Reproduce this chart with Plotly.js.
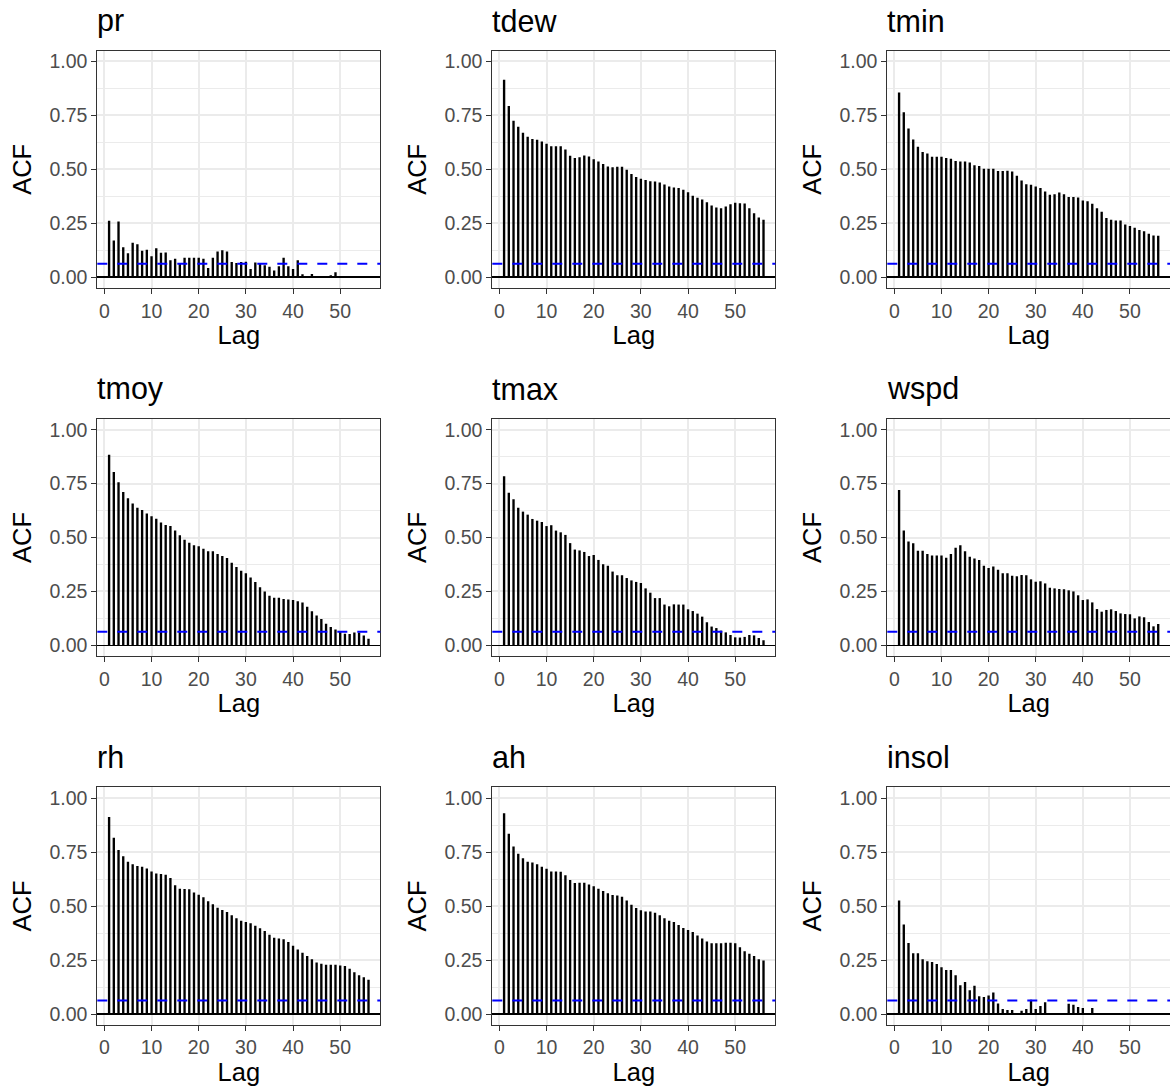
<!DOCTYPE html>
<html>
<head>
<meta charset="utf-8">
<script src="https://cdn.plot.ly/plotly-3.0.1.min.js"></script>
<style>
html,body{margin:0;padding:0;background:#ffffff;}
#chart{width:1170px;height:1091px;}
</style>
</head>
<body>
<div id="chart"></div>
<script>
// ---------- data ----------
const lags = [1,2,3,4,5,6,7,8,9,10,11,12,13,14,15,16,17,18,19,20,21,22,23,24,25,26,27,28,29,30,31,32,33,34,35,36,37,38,39,40,41,42,43,44,45,46,47,48,49,50,51,52,53,54,55,56];

const panelNames = ['pr','tdew','tmin','tmoy','tmax','wspd','rh','ah','insol'];

const acf_pr = [0.262,0.170,0.258,0.139,0.111,0.160,0.153,0.123,0.128,0.097,
  0.134,0.114,0.115,0.079,0.086,0.065,0.091,0.091,0.091,0.091,
  0.086,0.043,0.091,0.120,0.125,0.120,0.071,0.066,0.071,0.072,
  0.039,0.068,0.066,0.056,0.049,0.031,0.051,0.091,0.051,0.039,
  0.079,0.014,null,0.015,null,null,null,0.009,0.023,null,
  null,null,null,null,null,null];

const acf_tdew = [0.915,0.793,0.725,0.697,0.669,0.651,0.640,0.637,0.629,0.618,
  0.607,0.607,0.607,0.592,0.563,0.552,0.556,0.564,0.559,0.547,
  0.536,0.525,0.513,0.510,0.512,0.512,0.498,0.478,0.464,0.456,
  0.450,0.445,0.444,0.439,0.430,0.420,0.416,0.413,0.405,0.394,
  0.377,0.368,0.360,0.348,0.332,0.323,0.320,0.328,0.338,0.345,
  0.343,0.342,0.320,0.297,0.277,0.267];

const acf_tmin = [0.855,0.764,0.689,0.638,0.604,0.580,0.573,0.558,0.558,0.558,
  0.552,0.549,0.539,0.536,0.536,0.532,0.519,0.515,0.502,0.502,
  0.502,0.492,0.492,0.493,0.490,0.470,0.448,0.431,0.428,0.420,
  0.413,0.397,0.382,0.385,0.393,0.385,0.372,0.372,0.369,0.355,
  0.352,0.340,0.320,0.303,0.275,0.267,0.263,0.263,0.244,0.238,
  0.229,0.219,0.213,0.202,0.193,0.192];

const acf_tmoy = [0.884,0.804,0.756,0.711,0.682,0.658,0.638,0.628,0.611,0.598,
  0.587,0.569,0.558,0.553,0.532,0.510,0.490,0.476,0.464,0.459,
  0.448,0.436,0.436,0.423,0.414,0.405,0.383,0.363,0.346,0.334,
  0.315,0.294,0.269,0.249,0.230,0.221,0.221,0.215,0.212,0.210,
  0.204,0.199,0.179,0.158,0.138,0.122,0.100,0.085,0.073,0.065,
  0.054,0.053,0.060,0.059,0.045,0.031];

const acf_tmax = [0.784,0.708,0.677,0.638,0.620,0.606,0.586,0.578,0.572,0.553,
  0.557,0.532,0.524,0.512,0.474,0.444,0.440,0.433,0.414,0.419,
  0.396,0.376,0.369,0.342,0.325,0.325,0.312,0.301,0.294,0.289,
  0.264,0.244,0.219,0.219,0.189,0.181,0.190,0.189,0.189,0.167,
  0.159,0.147,0.133,0.107,0.087,0.080,0.068,0.060,0.048,0.037,
  0.036,0.039,0.048,0.046,0.034,0.023];

const acf_wspd = [0.720,0.533,0.482,0.473,0.439,0.439,0.423,0.417,0.417,0.416,
  0.406,0.423,0.453,0.464,0.436,0.411,0.403,0.396,0.369,0.359,
  0.366,0.351,0.334,0.334,0.323,0.320,0.326,0.325,0.306,0.295,
  0.297,0.287,0.267,0.264,0.261,0.260,0.255,0.250,0.232,0.210,
  0.213,0.199,0.168,0.156,0.164,0.167,0.159,0.148,0.145,0.144,
  0.125,0.134,0.130,0.108,0.088,0.099];

const acf_rh = [0.912,0.816,0.759,0.730,0.705,0.693,0.685,0.682,0.674,0.660,
  0.650,0.648,0.645,0.630,0.596,0.580,0.579,0.577,0.563,0.552,
  0.540,0.522,0.508,0.492,0.481,0.472,0.457,0.443,0.432,0.426,
  0.420,0.409,0.397,0.384,0.367,0.353,0.349,0.346,0.333,0.316,
  0.299,0.284,0.269,0.253,0.239,0.233,0.228,0.228,0.228,0.225,
  0.222,0.210,0.193,0.179,0.170,0.159];

const acf_ah = [0.929,0.835,0.775,0.742,0.721,0.705,0.701,0.693,0.682,0.673,
  0.660,0.660,0.659,0.642,0.620,0.606,0.608,0.608,0.600,0.591,
  0.580,0.569,0.559,0.551,0.549,0.543,0.526,0.506,0.491,0.480,
  0.475,0.474,0.469,0.457,0.443,0.432,0.426,0.412,0.398,0.389,
  0.380,0.364,0.350,0.336,0.327,0.327,0.327,0.330,0.330,0.327,
  0.309,0.290,0.279,0.269,0.253,0.248];

const acf_insol = [0.526,0.414,0.329,0.281,0.281,0.253,0.244,0.241,0.231,0.216,
  0.204,0.204,0.179,0.133,0.148,0.110,0.131,0.082,0.079,0.086,
  0.100,0.049,0.023,0.019,0.019,null,0.015,0.023,0.066,0.023,
  0.037,0.054,null,null,null,null,0.048,0.043,0.032,0.028,
  null,0.028,null,null,null,null,null,null,null,null,
  null,null,null,null,null,null];

const ciLevel = 0.063;

const xTickVals = [0,10,20,30,40,50];
const xTickText = ['0','10','20','30','40','50'];
const yTickVals = [0,0.25,0.5,0.75,1];
const yTickText = ['0.00','0.25','0.50','0.75','1.00'];
const yMinorVals = [0.125,0.375,0.625,0.875];

const xAxisTitle = 'Lag';
const yAxisTitle = 'ACF';

// ---------- layout geometry ----------
const W = 1170, H = 1091;
const colPx = [[97.3,380.3],[492.3,775.3],[887.3,1170]];
const rowPx = [[50.5,288.1],[418.9,656.1],[787.2,1024.8]];

const series = [acf_pr, acf_tdew, acf_tmin, acf_tmoy, acf_tmax, acf_wspd, acf_rh, acf_ah, acf_insol];

const FONT = 'Liberation Sans, Arial, Helvetica, sans-serif';

const data = [];
const layout = {
  width: W, height: H,
  margin: {l:0, r:0, t:0, b:0},
  paper_bgcolor: '#ffffff',
  plot_bgcolor: '#ffffff',
  showlegend: false,
  hovermode: false,
  font: {family: FONT, color: '#000000'},
  shapes: [],
  annotations: []
};

series.forEach((vals, i) => {
  const r = Math.floor(i / 3), c = i % 3;
  const n = i === 0 ? '' : String(i + 1);
  const xd = [colPx[c][0] / W, colPx[c][1] / W];
  const yd = [1 - rowPx[r][1] / H, 1 - rowPx[r][0] / H];

  data.push({
    type: 'bar',
    x: lags,
    y: vals,
    width: 0.5,
    marker: {color: '#000000', line: {width: 0}},
    xaxis: 'x' + n,
    yaxis: 'y' + n,
    hoverinfo: 'skip'
  });

  layout['xaxis' + n] = {
    domain: xd,
    anchor: 'y' + n,
    range: [-1.5, 58.5],
    tickmode: 'array',
    tickvals: xTickVals,
    ticktext: xTickText,
    ticks: 'outside',
    ticklen: 5,
    tickwidth: 1,
    tickcolor: '#333333',
    tickfont: {family: FONT, size: 19.5, color: '#4D4D4D'},
    showgrid: true,
    gridcolor: '#EBEBEB',
    gridwidth: 2,
    zeroline: false,
    showline: true,
    mirror: true,
    linecolor: '#333333',
    linewidth: 1,
    automargin: false,
    fixedrange: true,
    title: {text: xAxisTitle, font: {family: FONT, size: 25.5, color: '#000000'}, standoff: 3}
  };

  layout['yaxis' + n] = {
    domain: yd,
    anchor: 'x' + n,
    range: [-0.05, 1.05],
    tickmode: 'array',
    tickvals: yTickVals,
    ticktext: yTickText,
    ticks: 'outside',
    ticklen: 5,
    tickwidth: 1,
    tickcolor: '#333333',
    tickfont: {family: FONT, size: 19.5, color: '#4D4D4D'},
    showgrid: true,
    gridcolor: '#EBEBEB',
    gridwidth: 2,
    minor: {tickmode: 'array', tickvals: yMinorVals, showgrid: true, gridcolor: '#EBEBEB', gridwidth: 1, ticks: ''},
    zeroline: true,
    zerolinecolor: '#000000',
    zerolinewidth: 1.6,
    showline: true,
    mirror: true,
    linecolor: '#333333',
    linewidth: 1,
    automargin: false,
    fixedrange: true,
    title: {text: yAxisTitle, font: {family: FONT, size: 25.5, color: '#000000'}, standoff: 10}
  };

  layout.shapes.push({
    type: 'line',
    xref: 'x' + n + ' domain',
    yref: 'y' + n,
    x0: 0, x1: 1,
    y0: ciLevel, y1: ciLevel,
    line: {color: '#0000FF', width: 2, dash: '10px,10px'},
    layer: 'above'
  });

  layout.annotations.push({
    text: panelNames[i],
    xref: 'paper', yref: 'paper',
    x: xd[0], y: yd[1],
    xanchor: 'left', yanchor: 'middle',
    xshift: -2, yshift: 30,
    showarrow: false,
    font: {family: FONT, size: 30.5, color: '#000000'}
  });
});

Plotly.newPlot('chart', data, layout, {displayModeBar: false, staticPlot: true});
</script>
</body>
</html>
